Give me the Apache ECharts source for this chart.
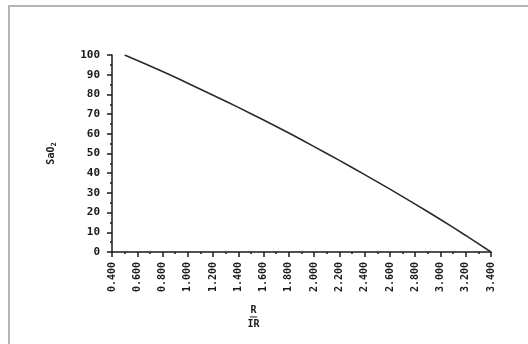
<!DOCTYPE html>
<html>
<head>
<meta charset="utf-8">
<script src="https://cdn.jsdelivr.net/npm/echarts@6/dist/echarts.min.js"></script>
<style>
  html, body { margin: 0; padding: 0; background: #fff; overflow: hidden; }
  #frame {
    position: absolute; left: 8px; top: 5px; width: 600px; height: 400px;
    border-left: 2px solid #b4b4b4; border-top: 2px solid #b4b4b4;
  }
  #main { position: absolute; left: 0; top: 0; width: 528px; height: 344px; }
</style>
</head>
<body>
<div id="frame"></div>
<div id="main"></div>
<script>
// ratio on x, saturation on y
const ratioValues = [0.5, 0.8, 1.0, 1.2, 1.4, 1.6, 1.8, 2.0, 2.2, 2.4, 2.6, 2.8, 3.0, 3.2, 3.4];
const sao2Values = [100, 91.6, 85.7, 79.6, 73.4, 67.0, 60.4, 53.5, 46.5, 39.3, 31.9, 24.3, 16.5, 8.4, 0];

const xMin = 0.4;
const xMax = 3.4;
const xStep = 0.2;
const yMin = 0;
const yMax = 100;
const yStep = 10;

const font = 'DejaVu Sans Mono';
const ink = '#1a1a1a';

const chart = echarts.init(document.getElementById('main'), null, { renderer: 'canvas' });

const option = {
  backgroundColor: 'transparent',
  animation: false,
  grid: { left: 112, right: 37, top: 55, bottom: 92 },
  xAxis: {
    type: 'value',
    min: xMin,
    max: xMax,
    interval: xStep,
    name: '{n|R}\n{l|━━}\n{d|IR}',
    nameLocation: 'middle',
    nameGap: 54,
    nameTextStyle: {
      padding: [0, 96, 0, 0],
      rich: {
        n: { fontFamily: font, fontWeight: 'bold', fontSize: 10, color: ink, lineHeight: 9 },
        l: { fontFamily: font, fontSize: 6, color: ink, lineHeight: 4 },
        d: { fontFamily: font, fontWeight: 'bold', fontSize: 10, color: ink, lineHeight: 10 },
      },
    },
    axisLine: { show: true, onZero: false, lineStyle: { color: ink, width: 1.5 } },
    axisTick: { show: true, length: 5, lineStyle: { color: ink, width: 1.5 } },
    minorTick: { show: true, splitNumber: 2, length: 2, lineStyle: { color: ink, width: 1.5 } },
    splitLine: { show: false },
    axisLabel: {
      rotate: 90,
      margin: 10,
      fontFamily: font,
      fontWeight: 'bold',
      fontSize: 10,
      color: ink,
      showMinLabel: true,
      showMaxLabel: true,
      formatter: (v) => v.toFixed(3),
    },
  },
  yAxis: {
    type: 'value',
    min: yMin,
    max: yMax,
    interval: yStep,
    name: '{a|SaO}{s|2}',
    nameLocation: 'middle',
    nameGap: 54,
    nameRotate: 90,
    nameTextStyle: {
      rich: {
        a: { fontFamily: font, fontWeight: 'bold', fontSize: 10, color: ink },
        s: { fontFamily: font, fontWeight: 'bold', fontSize: 7, color: ink, padding: [6, 0, 0, 0] },
      },
    },
    axisLine: { show: true, onZero: false, lineStyle: { color: ink, width: 1.5 } },
    axisTick: { show: true, length: 5, lineStyle: { color: ink, width: 1.5 } },
    minorTick: { show: true, splitNumber: 2, length: 2, lineStyle: { color: ink, width: 1.5 } },
    splitLine: { show: false },
    axisLabel: {
      margin: 12,
      fontFamily: font,
      fontWeight: 'bold',
      fontSize: 11,
      color: ink,
    },
  },
  series: [
    {
      type: 'line',
      data: ratioValues.map((x, i) => [x, sao2Values[i]]),
      smooth: 0.3,
      symbol: 'none',
      lineStyle: { color: '#2a2a2a', width: 1.6 },
    },
  ],
};

chart.setOption(option);
</script>
</body>
</html>
